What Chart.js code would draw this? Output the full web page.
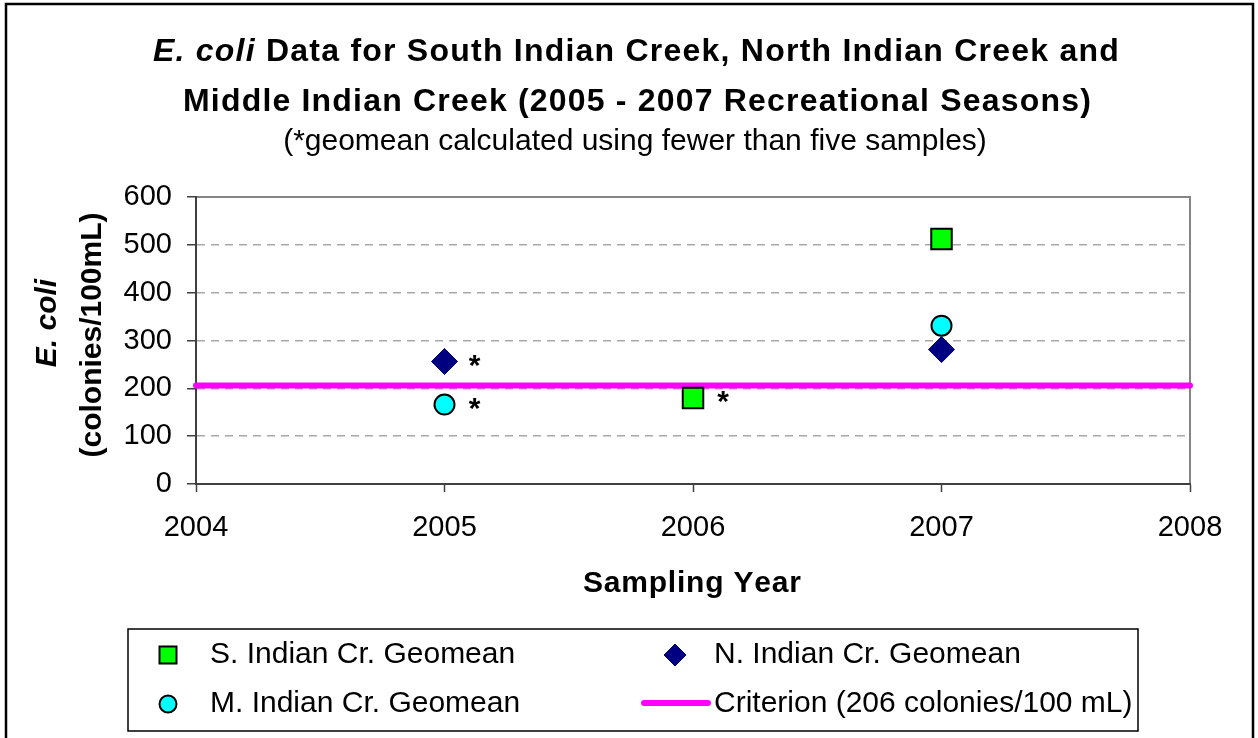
<!DOCTYPE html>
<html>
<head>
<meta charset="utf-8">
<script src="https://cdn.jsdelivr.net/npm/chart.js@4"></script>
<style>
  html, body { margin: 0; padding: 0; background: #fff; }
  canvas { display: block; }
</style>
</head>
<body>
<canvas id="canvas" width="1258" height="738"></canvas>
<script>
// sampling years and geomeans (colonies/100mL), null = no geomean that year
const years = [2005, 2006, 2007]
const southGeomean = [null, 180, 512]
const northGeomean = [256, null, 281]
const middleGeomean = [166, null, 331]
const criterionValue = 206
const xRange = [2004, 2008]
const yRange = [0, 600]
const yStep = 100
// years where the geomean was calculated using fewer than five samples
const southFew = [2006]
const northFew = [2005]
const middleFew = [2005]

const FONT = '"Liberation Sans", Arial, sans-serif'

function toPoints(values) {
    return years.map((x, i) => ({ x: x, y: values[i] })).filter(p => p.y !== null)
}

// draw text spread out so it covers a given width (the original uses wide tracking)
function spreadText(ctx, parts, left, y, width) {
    let total = 0, count = 0
    parts.forEach(p => {
        ctx.font = p.font
        p.w = ctx.measureText(p.text).width
        total += p.w
        count += p.text.length
    })
    const sp = (width - total) / count
    let x = left
    ctx.textAlign = 'left'
    parts.forEach(p => {
        ctx.font = p.font
        for (const ch of p.text) {
            ctx.fillText(ch, x, y)
            x += ctx.measureText(ch).width + sp
        }
    })
}

const decor = {
    id: 'decor',
    beforeDraw(chart) {
        const ctx = chart.ctx
        const area = chart.chartArea
        ctx.save()
        ctx.fillStyle = '#fff'
        ctx.fillRect(0, 0, chart.width, chart.height)
        ctx.strokeStyle = '#000'
        ctx.lineWidth = 2.5
        ctx.strokeRect(6, 4, 1247, 800)
        // top and right edge of plot area
        ctx.strokeStyle = '#858585'
        ctx.lineWidth = 2
        ctx.beginPath()
        ctx.moveTo(area.left, area.top)
        ctx.lineTo(area.right, area.top)
        ctx.lineTo(area.right, area.bottom)
        ctx.stroke()
        ctx.restore()
    },
    afterDraw(chart) {
        const ctx = chart.ctx
        ctx.save()
        ctx.fillStyle = '#000'
        ctx.textBaseline = 'alphabetic'
        // title
        spreadText(ctx, [
            { text: 'E. coli', font: 'italic bold 32px ' + FONT },
            { text: ' Data for South Indian Creek, North Indian Creek and', font: 'bold 32px ' + FONT }
        ], 153, 61, 967)
        spreadText(ctx, [
            { text: 'Middle Indian Creek (2005 - 2007 Recreational Seasons)', font: 'bold 32px ' + FONT }
        ], 183, 111, 909)
        ctx.font = '30px ' + FONT
        ctx.textAlign = 'center'
        ctx.fillText('(*geomean calculated using fewer than five samples)', 635, 150)

        // axis titles
        spreadText(ctx, [{ text: 'Sampling Year', font: 'bold 30px ' + FONT }], 583, 592, 217)
        ctx.save()
        ctx.translate(0, 335)
        ctx.rotate(-Math.PI / 2)
        ctx.textAlign = 'center'
        ctx.textBaseline = 'middle'
        ctx.font = 'italic bold 30px ' + FONT
        ctx.fillText('E. coli', 12, 48)
        ctx.font = 'bold 30px ' + FONT
        ctx.fillText('(colonies/100mL)', 0, 93)
        ctx.restore()

        // asterisks for geomeans based on fewer than five samples
        const few = [southFew, northFew, middleFew]
        ctx.font = 'bold 30px ' + FONT
        ctx.textAlign = 'center'
        few.forEach((list, di) => {
            const meta = chart.getDatasetMeta(di)
            const pts = chart.data.datasets[di].data
            pts.forEach((p, i) => {
                if (list.includes(p.x)) {
                    const el = meta.data[i]
                    ctx.fillText('*', el.x + 30, el.y + 13)
                }
            })
        })

        // legend
        ctx.strokeStyle = '#000'
        ctx.lineWidth = 1.5
        ctx.strokeRect(128, 629, 1010, 102)
        const ds = chart.data.datasets
        const slots = [
            { d: 0, mx: 168, my: 655, tx: 210, ty: 663, r: 12 },
            { d: 1, mx: 675, my: 655, tx: 714, ty: 663, r: 11 },
            { d: 2, mx: 168, my: 704, tx: 210, ty: 712, r: 8.5 },
            { d: 3, mx: 676, my: 703, tx: 714, ty: 712 }
        ]
        ctx.font = '30px ' + FONT
        slots.forEach(s => {
            const d = ds[s.d]
            if (d.type === 'line') {
                ctx.strokeStyle = d.borderColor
                ctx.lineWidth = d.borderWidth
                ctx.lineCap = 'round'
                ctx.beginPath()
                ctx.moveTo(s.mx - 32, s.my)
                ctx.lineTo(s.mx + 32, s.my)
                ctx.stroke()
            } else {
                ctx.fillStyle = d.backgroundColor
                ctx.strokeStyle = d.borderColor
                ctx.lineWidth = d.borderWidth
                Chart.helpers.drawPoint(ctx, { pointStyle: d.pointStyle, radius: s.r, rotation: 0, borderWidth: d.borderWidth }, s.mx, s.my)
            }
            ctx.fillStyle = '#000'
            ctx.textAlign = 'left'
            ctx.fillText(d.label, s.tx, s.ty)
        })
        ctx.restore()
    }
}

const data = {
    datasets: [
        {
            label: 'S. Indian Cr. Geomean',
            data: toPoints(southGeomean),
            pointStyle: 'rect',
            pointRadius: 14.5,
            backgroundColor: '#00ff00',
            borderColor: '#000',
            borderWidth: 2,
        },
        {
            label: 'N. Indian Cr. Geomean',
            data: toPoints(northGeomean),
            pointStyle: 'rectRot',
            pointRadius: 13,
            backgroundColor: '#000080',
            borderColor: '#000080',
            borderWidth: 1,
        },
        {
            label: 'M. Indian Cr. Geomean',
            data: toPoints(middleGeomean),
            pointStyle: 'circle',
            pointRadius: 10,
            backgroundColor: '#00ffff',
            borderColor: '#000',
            borderWidth: 2,
        },
        {
            type: 'line',
            label: 'Criterion (206 colonies/100 mL)',
            data: [{ x: xRange[0], y: criterionValue }, { x: xRange[1], y: criterionValue }],
            borderColor: '#ff00ff',
            backgroundColor: '#ff00ff',
            borderWidth: 6,
            borderCapStyle: 'round',
            pointRadius: 0,
            showLine: true,
            clip: false,
        },
    ]
}

const config = {
    type: 'scatter',
    data: data,
    plugins: [decor],
    options: {
        responsive: false,
        animation: false,
        devicePixelRatio: 1,
        layout: { padding: { left: 0, top: 197, right: 68, bottom: 0 } },
        plugins: {
            legend: { display: false },
            title: { display: false },
            tooltip: { enabled: false },
        },
        scales: {
            x: {
                type: 'linear',
                min: xRange[0],
                max: xRange[1],
                ticks: {
                    stepSize: 1,
                    color: '#000',
                    padding: 19,
                    font: { family: FONT, size: 29 },
                    callback: v => String(v),
                },
                grid: { drawOnChartArea: false, tickLength: 8, tickColor: '#404040', tickWidth: 1.5 },
                border: { color: '#404040', width: 2 },
                afterFit: s => { s.height = 254 },
            },
            y: {
                min: yRange[0],
                max: yRange[1],
                ticks: {
                    stepSize: yStep,
                    color: '#000',
                    padding: 15,
                    font: { family: FONT, size: 29 },
                },
                grid: {
                    color: c => (c.tick && (c.tick.value === yRange[0] || c.tick.value === yRange[1])) ? 'rgba(0,0,0,0)' : '#a8a8a8',
                    lineWidth: 1.5,
                    tickLength: 9,
                    tickColor: '#404040',
                    tickWidth: 1.5,
                },
                border: { color: '#404040', width: 2, dash: [8, 6] },
                afterFit: s => { s.width = 196 },
            }
        }
    }
}

const canvas = document.getElementById('canvas')
const chart = new Chart(canvas, config)
</script>
</body>
</html>
